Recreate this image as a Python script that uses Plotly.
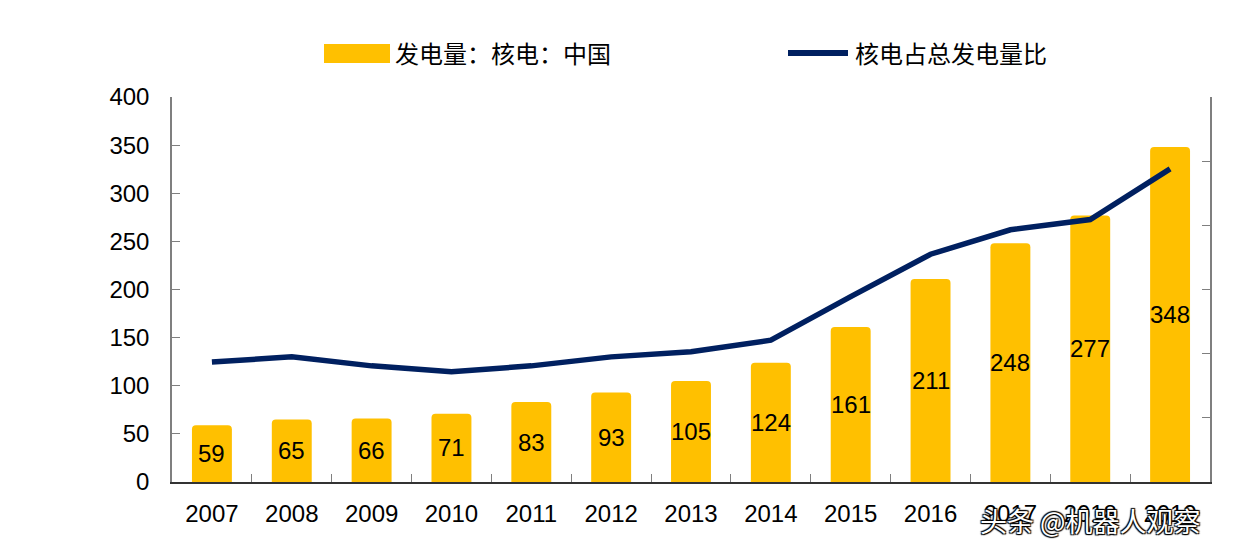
import plotly.graph_objects as go

years = ["2007", "2008", "2009", "2010", "2011", "2012", "2013", "2014",
         "2015", "2016", "2017", "2018", "2019"]
generation = [59, 65, 66, 71, 83, 93, 105, 124, 161, 211, 248, 277, 348]
share_pct = [1.87, 1.95, 1.81, 1.72, 1.81, 1.95, 2.03, 2.21, 2.89, 3.55, 3.93, 4.09, 4.88]

bar_name = "发电量：核电：中国"
line_name = "核电占总发电量比"

BAR_COLOR = "#FFC000"
LINE_COLOR = "#002060"
FONT_NUM = "Liberation Sans, Arial, sans-serif"
FONT_CJK = "Noto Sans CJK SC, sans-serif"

fig = go.Figure()
fig.add_trace(go.Bar(
    x=years, y=generation, name=bar_name,
    marker=dict(color=BAR_COLOR, line=dict(width=0), cornerradius=4),
    width=0.5,
    showlegend=False,
))
fig.add_trace(go.Scatter(
    x=years, y=share_pct, name=line_name, yaxis="y2",
    mode="lines", line=dict(color=LINE_COLOR, width=5.5),
    showlegend=False,
))

OFF = 8  # page body margin
W, H = 1257, 555
# target plot area in screenshot pixels
PX0, PX1, PY0, PY1 = 172, 1210, 97, 482
L = PX0 - OFF
T = PY0 - OFF
R = W - (PX1 - OFF)
B = H - (PY1 - OFF)
pw, ph = PX1 - PX0, PY1 - PY0

def px(x):
    return (x - PX0) / pw

def py(y):
    return (PY1 - y) / ph

shapes = [
    dict(type="rect", xref="paper", yref="paper",
         x0=px(324), x1=px(390), y0=py(63), y1=py(44),
         fillcolor=BAR_COLOR, line=dict(width=0)),
    dict(type="line", xref="paper", yref="paper",
         x0=px(788), x1=px(848), y0=py(53), y1=py(53),
         line=dict(color=LINE_COLOR, width=6)),
]
annotations = [
    dict(xref="paper", yref="paper", x=px(393), y=py(53), xanchor="left", yanchor="middle",
         text=bar_name, showarrow=False,
         font=dict(family=FONT_CJK, size=24, color="black")),
    dict(xref="paper", yref="paper", x=px(853), y=py(53), xanchor="left", yanchor="middle",
         text=line_name, showarrow=False,
         font=dict(family=FONT_CJK, size=24, color="black")),
]
# bar value labels, centred inside each bar (x given as category index)
for i, v in enumerate(generation):
    annotations.append(dict(
        xref="x", yref="y", x=i, y=v / 2, xanchor="center", yanchor="middle",
        text=str(v), showarrow=False,
        font=dict(family=FONT_NUM, size=24, color="black"),
    ))
annotations.append(dict(
    xref="paper", yref="paper", x=px(978), y=py(520), xanchor="left", yanchor="middle",
    text="头条 @机器人观察", showarrow=False,
    font=dict(family=FONT_CJK, size=27, color="white",
              shadow="1px 1px 1px #000, -1px -1px 1px #000, 1px -1px 1px #000, -1px 1px 1px #000")))

fig.update_layout(
    width=W, height=H,
    margin=dict(l=L, r=R, t=T, b=B),
    paper_bgcolor="white", plot_bgcolor="white",
    bargap=0.5,
    showlegend=False,
    shapes=shapes,
    annotations=annotations,
    xaxis=dict(
        type="category", categoryorder="array", categoryarray=years,
        range=[-0.5, len(years) - 0.5],
        showgrid=False,
        showline=True, linecolor="#333333", linewidth=1.5,
        ticks="inside", ticklen=8, tickcolor="#7f7f7f", tickson="boundaries",
        tickfont=dict(family=FONT_NUM, size=24, color="black"),
        ticklabelstandoff=9,
    ),
    yaxis=dict(
        range=[0, 400], dtick=50, showgrid=False, zeroline=False,
        showline=True, linecolor="#7f7f7f", linewidth=1.5,
        ticks="inside", ticklen=8, tickcolor="#7f7f7f",
        tickfont=dict(family=FONT_NUM, size=24, color="black"),
        ticklabelstandoff=16,
    ),
    yaxis2=dict(
        range=[0, 6], dtick=1, overlaying="y", side="right",
        showgrid=False, zeroline=False,
        showline=True, linecolor="#7f7f7f", linewidth=1.5,
        ticks="inside", ticklen=8, tickcolor="#7f7f7f",
        showticklabels=False,
    ),
)

fig.write_html("out.html")
